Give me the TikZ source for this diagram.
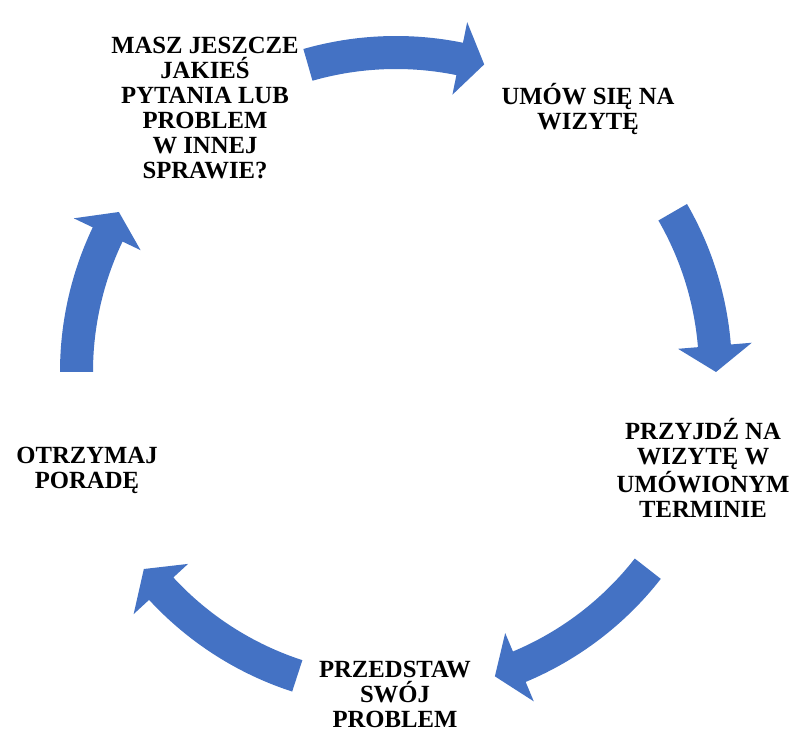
\documentclass[tikz,border=0pt]{standalone}
\usepackage{fontspec}
\setmainfont{Liberation Serif}
\usepackage{xcolor}
\definecolor{arrowblue}{HTML}{4472C4}

\begin{document}
\begin{tikzpicture}[
  x=1pt, y=1pt,
  steptext/.style={font=\bfseries\fontsize{24.7}{25}\selectfont, align=center, inner sep=0pt},
  cyclearrow/.style={fill=arrowblue}
]
\useasboundingbox[fill=white] (0,0) rectangle (804,745);
\coordinate (c) at (396,373);

\node[steptext] (ask)     at (205,637) {MASZ JESZCZE\\JAKIEŚ\\PYTANIA LUB\\PROBLEM\\W INNEJ\\SPRAWIE?};
\node[steptext] (book)    at (588,636) {UMÓW SIĘ NA\\WIZYTĘ};
\node[steptext] (come)    at (703,277) {PRZYJDŹ NA\\WIZYTĘ W\\UMÓWIONYM\\TERMINIE};
\node[steptext] (present) at (395,51)  {PRZEDSTAW\\SWÓJ\\PROBLEM};
\node[steptext] (advice)  at (87,275)  {OTRZYMAJ\\PORADĘ};

\begin{scope}[shift={(c)}]
  % ask -> book
  \fill[cyclearrow] (106:336) arc[start angle=106, end angle=78.5, radius=336]
    -- (78.5:357) -- (74:320) -- (78.5:283)
    -- (78.5:303) arc[start angle=78.5, end angle=106, radius=303] -- cycle;
  % book -> come
  \fill[cyclearrow] (30:336) arc[start angle=30, end angle=4.7, radius=336]
    -- (4.7:357) -- (0:320) -- (4.7:283)
    -- (4.7:303) arc[start angle=4.7, end angle=30, radius=303] -- cycle;
  % come -> present
  \fill[cyclearrow] (-38:336) arc[start angle=-38, end angle=-67.3, radius=336]
    -- (-67.3:357) -- (-72:320) -- (-67.3:283)
    -- (-67.3:303) arc[start angle=-67.3, end angle=-38, radius=303] -- cycle;
  % present -> advice
  \fill[cyclearrow] (-108:336) arc[start angle=-108, end angle=-137.3, radius=336]
    -- (-137.3:357) -- (-142:320) -- (-137.3:283)
    -- (-137.3:303) arc[start angle=-137.3, end angle=-108, radius=303] -- cycle;
  % advice -> ask
  \fill[cyclearrow] (180:336) arc[start angle=180, end angle=154.5, radius=336]
    -- (154.5:357) -- (150:320) -- (154.5:283)
    -- (154.5:303) arc[start angle=154.5, end angle=180, radius=303] -- cycle;
\end{scope}
\end{tikzpicture}
\end{document}
